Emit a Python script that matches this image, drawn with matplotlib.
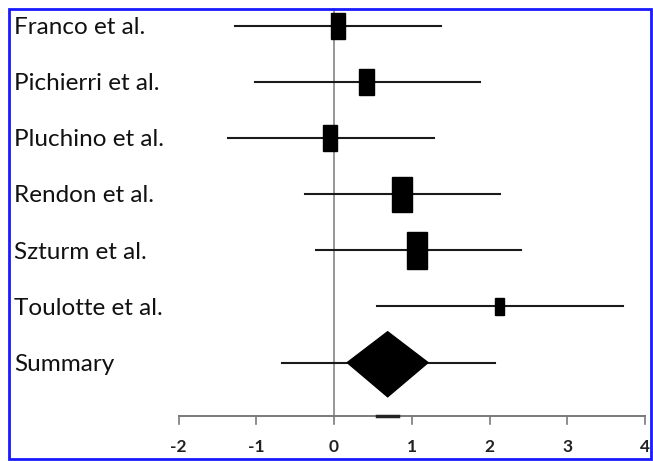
import numpy as np
import matplotlib.pyplot as plt
from matplotlib.patches import Rectangle, Polygon

# study names, estimates and confidence limits
studies = ["Franco et al.", "Pichierri et al.", "Pluchino et al.",
           "Rendon et al.", "Szturm et al.", "Toulotte et al."]
est = [0.05, 0.42, -0.05, 0.875, 1.07, 2.13]
lower = [-1.27, -1.02, -1.36, -0.37, -0.23, 0.55]
upper = [1.38, 1.88, 1.29, 2.13, 2.40, 3.72]
# box weight (relative size of each square)
weight = [0.75, 0.75, 0.75, 1.0, 1.05, 0.5]

# summary
sum_label = "Summary"
sum_est = 0.69
sum_lo_diamond = 0.17
sum_hi_diamond = 1.21
sum_lower = -0.67
sum_upper = 2.07

xticks = [-2, -1, 0, 1, 2, 3, 4]

fig = plt.figure(figsize=(6.53, 4.61), dpi=100)
ax = fig.add_axes([0, 0, 1, 1])
ax.set_xlim(-334 / 77.75, (653 - 334) / 77.75)
ax.set_ylim(7.754, -0.463)
ax.axis('off')

lab_x = (14 - 334) / 77.75
axis_y = 6.95

# zero line
ax.plot([0, 0], [-0.3, axis_y], color='#7a7a7a', lw=1.1, zorder=1)

# study rows
for i in range(len(studies)):
    ax.plot([lower[i], upper[i]], [i, i], color='#1a1a1a', lw=1.5, zorder=2)
    w = 0.25 * weight[i]
    h = 0.62 * weight[i]
    ax.add_patch(Rectangle((est[i] - w / 2, i - h / 2), w, h,
                           facecolor='black', edgecolor='black', zorder=3))
    ax.text(lab_x, i + 0.03, studies[i], fontsize=17.5, family='Lato',
            va='center', ha='left', color='#111111')

# summary row
j = len(studies)
ax.plot([sum_lower, sum_upper], [j, j], color='#1a1a1a', lw=1.5, zorder=2)
ax.add_patch(Polygon([[sum_lo_diamond, j], [sum_est, j - 0.55],
                      [sum_hi_diamond, j], [sum_est, j + 0.61]],
                     closed=True, facecolor='black', edgecolor='black', zorder=3))
ax.text(lab_x, j + 0.03, sum_label, fontsize=17.5, family='Lato',
        va='center', ha='left', color='#111111')

# bottom axis
ax.plot([xticks[0], xticks[-1]], [axis_y, axis_y], color='#7a7a7a', lw=1.4)
for t in xticks:
    ax.plot([t, t], [axis_y, axis_y + 0.14], color='#7a7a7a', lw=1.2)
    ax.text(t, axis_y + 0.55, str(t), fontsize=12.5, family='Lato',
            ha='center', va='center', color='#222222', fontweight='bold')
ax.plot([0.55, 0.82], [axis_y, axis_y], color='#222222', lw=2.5)

# blue frame
fig.patches.append(Rectangle((9 / 653, 2 / 461), 642 / 653, 450 / 461,
                             transform=fig.transFigure, fill=False,
                             edgecolor='#1a1aff', lw=2))

plt.savefig('out.png', dpi=100)
